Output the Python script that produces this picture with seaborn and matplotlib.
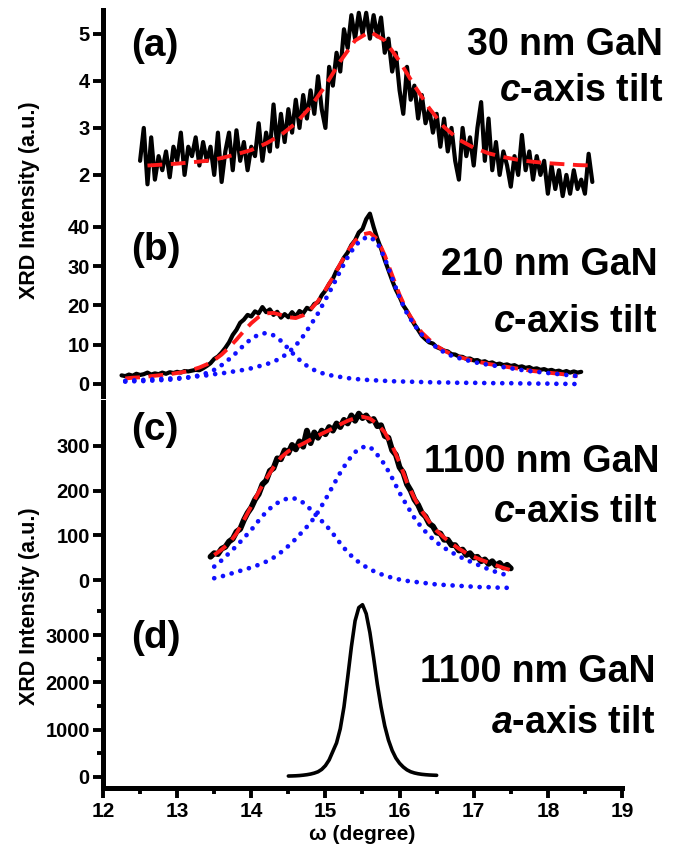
import numpy as np
import matplotlib
matplotlib.use("Agg")
import matplotlib.pyplot as plt
import seaborn as sns
from matplotlib.ticker import MultipleLocator

# --- datos ---
# (a) 30 nm GaN, paso 0.05 desde 12.50 hasta 18.60
a_range = (12.5, 18.6)
a_signal = [
    2.3, 3.0, 1.8, 2.8, 1.9, 2.4, 2.1, 2.5, 1.95, 2.6,
    2.3, 2.9, 2.0, 2.6, 2.4, 2.8, 2.2, 2.7, 2.3, 2.6,
    2.0, 2.9, 1.85, 2.5, 2.9, 2.1, 2.95, 2.3, 2.7, 2.1,
    2.6, 2.4, 3.1, 2.3, 2.9, 2.5, 3.5, 2.6, 3.3, 2.7,
    3.4, 2.9, 3.6, 3.0, 3.7, 3.2, 3.8, 3.3, 4.1, 3.4,
    3.0, 4.3, 3.9, 4.6, 4.2, 5.1, 4.7, 5.4, 4.9, 5.45,
    5.0, 5.45, 4.9, 5.4, 4.95, 5.35, 4.6, 4.9, 4.2, 4.6,
    3.8, 3.3, 4.3, 3.6, 3.9, 3.2, 3.7, 3.1, 3.4, 2.9,
    3.3, 2.6, 3.2, 2.5, 3.0, 2.3, 1.9, 3.0, 2.4, 2.8,
    2.2, 3.0, 3.55, 2.3, 3.2, 2.1, 2.7, 2.0, 2.5, 2.2,
    1.75, 2.4, 2.0, 2.85, 2.1, 2.5, 1.9, 2.4, 2.0, 2.3,
    1.6, 2.2, 1.7, 2.1, 1.55, 2.0, 1.6, 2.1, 1.7, 1.9,
    1.6, 2.45, 1.85,
]
# ajuste (a), paso 0.2 desde 12.6 hasta 18.6
a_fit_range = (12.6, 18.6)
a_fit = [2.20, 2.22, 2.24, 2.27, 2.30, 2.36, 2.44, 2.53, 2.67, 2.85,
         3.10, 3.45, 3.90, 4.42, 4.86, 5.05, 4.86, 4.42, 3.90, 3.42,
         3.02, 2.75, 2.58, 2.46, 2.38, 2.32, 2.28, 2.25, 2.23, 2.21, 2.20]

# (b) 210 nm GaN, paso 0.05 desde 12.25 hasta 18.45
b_range = (12.25, 18.45)
b_signal = [
    2.2, 2.0, 2.4, 2.1, 2.6, 2.3, 2.5, 2.9, 2.4, 2.7,
    2.5, 2.9, 2.6, 3.0, 2.8, 3.1, 2.9, 3.3, 3.2, 3.4,
    3.6, 3.5, 4.0, 4.6, 5.3, 6.4, 7.0, 8.0, 9.2, 10.6,
    12.5, 13.8, 15.6, 16.4, 17.6, 17.2, 18.5, 18.0, 19.6, 18.3,
    19.0, 17.6, 18.4, 16.9, 17.8, 17.0, 18.3, 17.2, 18.6, 18.0,
    19.4, 19.0, 20.4, 20.8, 22.6, 23.8, 25.5, 26.8, 28.9, 30.4,
    32.2, 33.5, 35.4, 36.6, 38.6, 39.5, 42.0, 43.4, 40.0, 37.0,
    34.5, 31.6, 29.0, 26.4, 24.0, 22.2, 20.0, 18.6, 16.8, 15.2,
    13.8, 12.3, 11.4, 10.6, 10.3, 9.4, 9.0, 8.5, 8.3, 7.6,
    7.5, 7.0, 6.9, 6.4, 6.5, 6.0, 6.1, 5.6, 5.8, 5.3,
    5.5, 5.0, 5.2, 4.8, 5.0, 4.6, 4.8, 4.3, 4.5, 4.1,
    4.3, 3.8, 4.0, 3.6, 3.8, 3.4, 3.6, 3.2, 3.4, 3.0,
    3.3, 2.9, 3.2, 2.9, 3.1,
]
# ajustes (b), paso 0.1 desde 12.3 hasta 18.4
b_fit_range = (12.3, 18.4)
b_fit = [1.4, 1.6, 1.7, 1.9, 2.1, 2.3, 2.5, 2.8, 3.1, 3.6,
         4.2, 5.0, 6.1, 7.5, 9.3, 11.3, 13.5, 15.5, 17.1, 18.0,
         18.1, 17.6, 17.0, 16.8, 17.5, 19.0, 21.1, 24.0, 27.1, 30.6,
         33.8, 36.5, 38.1, 38.5, 36.9, 32.8, 27.7, 22.7, 18.6, 15.6,
         13.1, 11.3, 9.7, 8.5, 7.6, 6.9, 6.4, 5.9, 5.5, 5.1,
         4.8, 4.5, 4.2, 3.9, 3.6, 3.3, 3.1, 2.9, 2.7, 2.5,
         2.2, 2.0]
b_peak1 = [0.6, 0.7, 0.7, 0.8, 0.9, 1.0, 1.1, 1.3, 1.5, 1.8,
           2.2, 2.8, 3.6, 4.8, 6.3, 8.0, 9.9, 11.5, 12.6, 13.0,
           12.4, 11.0, 9.0, 7.0, 5.3, 4.0, 3.1, 2.5, 2.1, 1.8,
           1.5, 1.3, 1.1, 1.0, 0.9, 0.8, 0.7, 0.65, 0.6, 0.55,
           0.5, 0.45, 0.4, 0.4, 0.35, 0.3, 0.3, 0.3, 0.25, 0.25,
           0.2, 0.2, 0.2, 0.15, 0.15, 0.1, 0.1, 0.1, 0.05, 0.05,
           0.0, 0.0]
b_peak2 = [0.8, 0.9, 1.0, 1.1, 1.2, 1.3, 1.4, 1.5, 1.6, 1.8,
           2.0, 2.2, 2.5, 2.7, 3.0, 3.3, 3.6, 4.0, 4.5, 5.0,
           5.7, 6.6, 8.0, 9.8, 12.2, 15.0, 18.0, 21.5, 25.0, 28.8,
           32.3, 35.2, 37.0, 37.5, 36.0, 32.0, 27.0, 22.0, 18.0, 15.0,
           12.6, 10.8, 9.3, 8.1, 7.2, 6.6, 6.1, 5.6, 5.2, 4.9,
           4.6, 4.3, 4.0, 3.7, 3.4, 3.2, 3.0, 2.8, 2.6, 2.4,
           2.2, 2.0]

# (c) 1100 nm GaN eje c, paso 0.05 desde 13.45 hasta 17.50
c_range = (13.45, 17.5)
c_signal = [
    52, 60, 58, 70, 74, 86, 92, 108, 114, 134,
    150, 162, 180, 192, 214, 222, 244, 250, 272, 270,
    290, 284, 302, 292, 310, 298, 334, 306, 330, 318,
    334, 326, 342, 334, 350, 342, 358, 350, 368, 356,
    372, 362, 368, 356, 360, 344, 346, 322, 318, 290,
    280, 252, 240, 214, 200, 180, 168, 150, 142, 126,
    120, 106, 104, 90, 90, 78, 78, 66, 68, 56,
    60, 50, 52, 42, 46, 36, 42, 32, 38, 28,
    34, 26,
]
# ajustes (c), paso 0.1 desde 13.5 hasta 17.5
c_fit_range = (13.5, 17.5)
c_fit = [56, 68, 82, 104, 134, 165, 197, 226, 252, 274,
         288, 297, 305, 314, 323, 331, 339, 348, 356, 362,
         365, 361, 349, 330, 300, 262, 218, 183, 154, 130,
         110, 95, 82, 70, 60, 52, 45, 39, 33, 27,
         22]
c_peak1 = [30, 44, 60, 76, 94, 112, 133, 152, 167, 177,
           183, 182, 173, 158, 140, 124, 104, 82, 62, 46,
           34, 24, 16, 10, 5, 1, -2, -4, -6, -8,
           -10, -11, -12, -13, -14, -15, -16, -16, -17, -17,
           -18]
c_peak2 = [4, 8, 13, 18, 23, 28, 34, 41, 50, 62,
           76, 92, 110, 128, 152, 180, 210, 240, 266, 286,
           297, 298, 280, 258, 228, 195, 166, 139, 117, 99,
           84, 72, 62, 53, 45, 38, 31, 24, 18, 13,
           10]

# (d) 1100 nm GaN eje a, paso 0.05 desde 14.5 hasta 16.5
d_range = (14.5, 16.5)
d_signal = [20, 22, 25, 30, 38, 48, 62, 82, 110, 160,
            240, 360, 540, 720, 1020, 1480, 2100, 2750, 3300, 3580,
            3640, 3450, 3050, 2520, 1960, 1480, 1080, 780, 560, 400,
            290, 210, 150, 110, 85, 68, 56, 48, 42, 38,
            35]

panel_tags = ["(a)", "(b)", "(c)", "(d)"]
panel_titles = [("30 nm GaN", "$c$-axis tilt"),
                ("210 nm GaN", "$c$-axis tilt"),
                ("1100 nm GaN", "$c$-axis tilt"),
                ("1100 nm GaN", "$a$-axis tilt")]
x_ticks = [12, 13, 14, 15, 16, 17, 18, 19]
y_ticks = [[2, 3, 4, 5], [0, 10, 20, 30, 40], [0, 100, 200, 300],
           [0, 1000, 2000, 3000]]
y_limits = [(1.36, 5.51), (-3.06, 45.6), (-38, 398), (-233, 3740)]

# --- estilo ---
sns.set_style("ticks")
plt.rcParams['font.family'] = ['Liberation Sans', 'DejaVu Sans']
plt.rcParams['font.weight'] = 'bold'
plt.rcParams['mathtext.fontset'] = 'custom'
plt.rcParams['mathtext.it'] = 'Liberation Sans:italic:bold'
plt.rcParams['mathtext.rm'] = 'Liberation Sans:bold'
plt.rcParams['mathtext.bf'] = 'Liberation Sans:bold'
plt.rcParams['text.color'] = 'black'

W, H = 679, 848
fig = plt.figure(figsize=(W / 100, H / 100), dpi=100)


def fx(px):
    return px / W


def fy(py):
    return 1 - py / H


def grid(rng, vals):
    return np.linspace(rng[0], rng[1], len(vals))


def trace(ax, x, y, color, lw, ls='-', cap='butt'):
    sns.lineplot(x=x, y=y, ax=ax, color=color, linewidth=lw, linestyle=ls,
                 dash_capstyle=cap, sort=False, estimator=None)


# rectangulos de los paneles (pixeles: arriba, abajo)
boxes = [(10, 205), (205, 396), (402, 597), (600, 788)]
axes = []
for top, bot in boxes:
    ax = fig.add_axes([fx(103), fy(bot), fx(622) - fx(103), (bot - top) / H])
    axes.append(ax)

dash_red = (0, (3.8, 2.2))
dot_blue = (0, (0.01, 1.9))
red = '#ff1a1a'
blue = '#1010ff'

# (a)
trace(axes[0], grid(a_range, a_signal), a_signal, 'black', 3.0)
trace(axes[0], grid(a_fit_range, a_fit), a_fit, red, 2.8, dash_red)
# (b)
trace(axes[1], grid(b_range, b_signal), b_signal, 'black', 3.0)
trace(axes[1], grid(b_fit_range, b_fit), b_fit, red, 2.8, dash_red)
trace(axes[1], grid(b_fit_range, b_peak1), b_peak1, blue, 3.4, dot_blue, 'round')
trace(axes[1], grid(b_fit_range, b_peak2), b_peak2, blue, 3.4, dot_blue, 'round')
# (c)
trace(axes[2], grid(c_range, c_signal), c_signal, 'black', 4.2)
trace(axes[2], grid(c_fit_range, c_fit), c_fit, red, 2.8, dash_red)
trace(axes[2], grid(c_fit_range, c_peak1), c_peak1, blue, 3.4, dot_blue, 'round')
trace(axes[2], grid(c_fit_range, c_peak2), c_peak2, blue, 3.4, dot_blue, 'round')
# (d)
trace(axes[3], grid(d_range, d_signal), d_signal, 'black', 2.6)

for i, ax in enumerate(axes):
    ax.set_xlim(12, 19)
    ax.set_ylim(*y_limits[i])
    ax.set_yticks(y_ticks[i])
    ax.set_xlabel('')
    ax.set_ylabel('')
    ax.spines[['top', 'right']].set_visible(False)
    ax.spines['left'].set_linewidth(3.6)
    ax.spines['left'].set_color('black')
    ax.tick_params(axis='y', which='major', direction='out', length=7,
                   width=2.8, color='black', labelcolor='black',
                   labelsize=14.5, pad=2.5)
    ax.patch.set_alpha(0)
    if i < 3:
        ax.spines['bottom'].set_visible(False)
        ax.tick_params(axis='x', bottom=False, labelbottom=False)
    else:
        ax.spines['bottom'].set_linewidth(3.6)
        ax.spines['bottom'].set_color('black')
        ax.set_xticks(x_ticks)
        ax.xaxis.set_minor_locator(MultipleLocator(0.5))
        ax.yaxis.set_minor_locator(MultipleLocator(500))
        ax.tick_params(axis='x', which='major', direction='out', length=7,
                       width=2.8, color='black', labelcolor='black',
                       labelsize=15, pad=3)
        ax.tick_params(which='minor', direction='out', length=4, width=2.8,
                       color='black')

# etiquetas de panel
tag_y = [46, 250, 430, 638]
for tag, ty in zip(panel_tags, tag_y):
    fig.text(fx(131), fy(ty), tag, fontsize=28, fontweight='bold',
             ha='left', va='center')

# titulos a la derecha (linea base en pixeles)
title_pos = [((663, 55), (663, 101)), ((658, 275), (657, 332)),
             ((660, 472), (657, 522)), ((655, 682), (655, 733))]
for (t1, t2), (p1, p2) in zip(panel_titles, title_pos):
    fig.text(fx(p1[0]), fy(p1[1]), t1, fontsize=27, fontweight='bold',
             ha='right', va='baseline')
    fig.text(fx(p2[0]), fy(p2[1]), t2, fontsize=27, fontweight='bold',
             ha='right', va='baseline')

# ejes
fig.text(fx(30), fy(200), "XRD Intensity (a.u.)", rotation=90, fontsize=15.5,
         fontweight='bold', ha='center', va='center')
fig.text(fx(30), fy(606), "XRD Intensity (a.u.)", rotation=90, fontsize=15.5,
         fontweight='bold', ha='center', va='center')
fig.text(fx(362), fy(834), "ω (degree)", fontsize=15, fontweight='bold',
         ha='center', va='center')

fig.savefig("out.png", dpi=100, facecolor='white')
